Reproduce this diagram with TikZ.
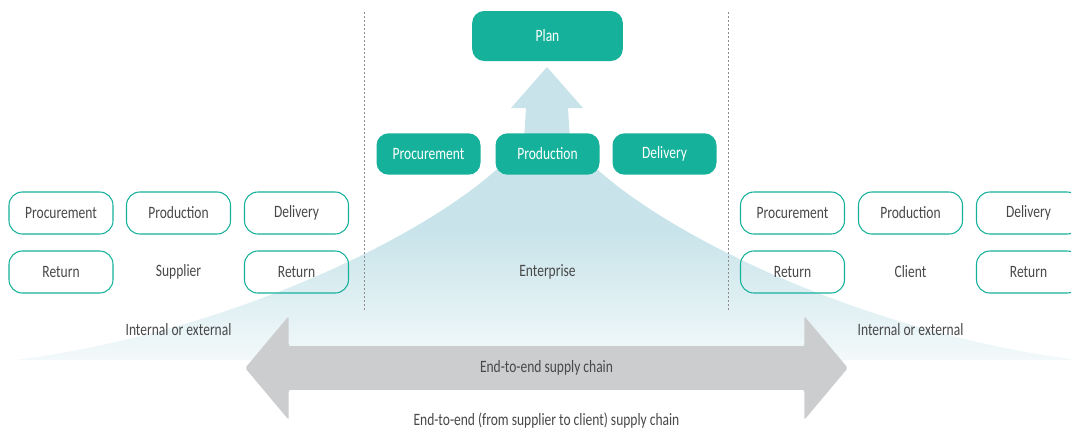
\documentclass[tikz,border=0pt]{standalone}
\usepackage{fontspec}
\setmainfont{Carlito}[FakeStretch=0.78]
\usetikzlibrary{shapes.arrows}

\definecolor{teal1}{RGB}{22,177,155}
\definecolor{conebl}{RGB}{200,228,234}
\definecolor{conewh}{RGB}{243,249,250}
\definecolor{chaingrey}{RGB}{204,205,207}
\definecolor{txtgrey}{RGB}{72,72,72}

\pgfdeclareverticalshading{conefade}{100bp}{color(0bp)=(conewh); color(25bp)=(conewh); color(47bp)=(conebl); color(100bp)=(conebl)}

\newcommand{\diagfont}{\fontsize{13pt}{14pt}\selectfont}

\begin{document}
\begin{tikzpicture}[
  x=0.75pt, y=-0.75pt,
  planbox/.style={rectangle, rounded corners=9pt, fill=teal1, text=white,
    minimum width=113pt, minimum height=37.5pt, align=center, font=\diagfont},
  stagebox/.style={rectangle, rounded corners=9pt, fill=teal1, text=white,
    minimum width=78pt, minimum height=31pt, align=center, font=\diagfont},
  partnerbox/.style={rectangle, draw=teal1, line width=0.8pt, rounded corners=10pt,
    minimum width=78pt, minimum height=31.5pt, align=center, text=txtgrey, font=\diagfont},
  zonelabel/.style={text=txtgrey, font=\diagfont},
  divider/.style={draw=gray!90, line width=0.6pt, dash pattern=on 1.5pt off 1.5pt},
  chainarrow/.style={double arrow, fill=chaingrey, draw=none, rounded corners=1.5pt,
    minimum height=452pt, minimum width=77pt, double arrow head extend=22.5pt,
    double arrow tip angle=100, text height=9pt, text depth=2.5pt, inner ysep=10.4pt,
    text=txtgrey, font=\diagfont},
]
\useasboundingbox (0,0) rectangle (1071,430);

% Row and column positions (pixels)
\def\rowplan{36}
\def\rowmid{154}
\def\rowtop{213}
\def\rowbot{272}
\def\rowext{330}
\def\xla{61}
\def\xlb{178.5}
\def\xlc{296.5}
\def\xma{428.5}
\def\xmb{547.5}
\def\xmc{664.5}
\def\xra{792.5}
\def\xrb{910.5}
\def\xrc{1028.5}

% ============================================================
% Background cone towards Plan
% ============================================================
\shade[shading=conefade] (547,67) -- (583,108) -- (568,108) -- (570,140)
  .. controls (624,215) and (843,330) .. (1078,360) -- (15,360)
  .. controls (250,330) and (470,215) .. (524,140) -- (526,108) -- (511,108) -- cycle;

% Dividers
\draw[divider] (364.5,12) -- (364.5,310);
\draw[divider] (728.5,12) -- (728.5,310);

% ============================================================
% Enterprise
% ============================================================
\node[planbox] (plan) at (\xmb, \rowplan) {Plan};

\node[stagebox] (eproc) at (\xma, \rowmid) {Procurement};
\node[stagebox] (eprod) at (\xmb, \rowmid) {Production};
\node[stagebox] (edel)  at (\xmc, \rowmid) {Delivery};

\node[zonelabel] (ent) at (\xmb, \rowbot) {Enterprise};

% ============================================================
% Supplier
% ============================================================
\node[partnerbox] (sproc) at (\xla, \rowtop) {Procurement};
\node[partnerbox] (sprod) at (\xlb, \rowtop) {Production};
\node[partnerbox] (sdel)  at (\xlc, \rowtop) {Delivery};
\node[partnerbox] (sreta) at (\xla, \rowbot) {Return};
\node[zonelabel]  (sup)   at (\xlb, \rowbot) {Supplier};
\node[partnerbox] (sretb) at (\xlc, \rowbot) {Return};
\node[zonelabel]  (sext)  at (\xlb, \rowext) {Internal or external};

% ============================================================
% Client
% ============================================================
\node[partnerbox] (cproc) at (\xra, \rowtop) {Procurement};
\node[partnerbox] (cprod) at (\xrb, \rowtop) {Production};
\node[partnerbox] (cdel)  at (\xrc, \rowtop) {Delivery};
\node[partnerbox] (creta) at (\xra, \rowbot) {Return};
\node[zonelabel]  (cli)   at (\xrb, \rowbot) {Client};
\node[partnerbox] (cretb) at (\xrc, \rowbot) {Return};
\node[zonelabel]  (cext)  at (\xrb, \rowext) {Internal or external};

% ============================================================
% End-to-end chain
% ============================================================
\node[chainarrow] (chain) at (546.5, 368) {End-to-end supply chain};
\node[zonelabel] (chainlbl) at (546.5, 421) {End-to-end (from supplier to client) supply chain};

\end{tikzpicture}
\end{document}
